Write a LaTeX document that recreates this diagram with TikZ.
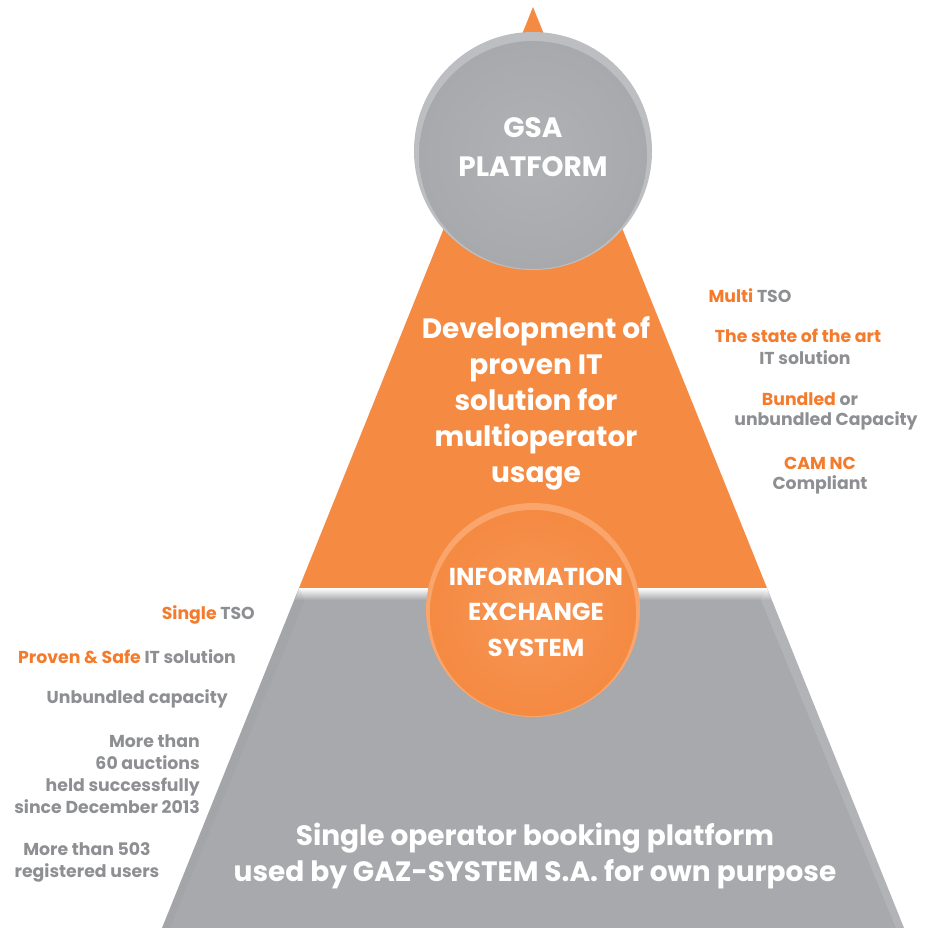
\documentclass[tikz,border=0pt]{standalone}
\usepackage{fontspec}
\setmainfont{Poppins}
\definecolor{org}{HTML}{F58A42}
\definecolor{orgtxt}{HTML}{F47B2C}
\definecolor{gr}{HTML}{A8A9AC}
\definecolor{grlight}{HTML}{BDBEC1}
\definecolor{grtxt}{HTML}{8E8F92}
\definecolor{orglight}{HTML}{F9A56C}
\begin{document}
\begin{tikzpicture}[x=1pt,y=-1pt,
  bigtxt/.style={text=white,font=\fontsize{28}{36}\selectfont\bfseries,align=center,inner sep=0pt},
  captxt/.style={text=white,font=\fontsize{24.5}{35.5}\selectfont\bfseries,align=center,inner sep=0pt},
  side/.style={text=grtxt,font=\fontsize{17.3}{22}\selectfont\bfseries,inner sep=0pt},
  hl/.style={text=orgtxt}]
\useasboundingbox (0,0) rectangle (924,928);
\coordinate (apex) at (533,7);
\coordinate (ml) at (299,588);
\coordinate (mr) at (767,588);
\coordinate (bl) at (162,928);
\coordinate (br) at (904,928);
% pyramid
\fill[org] (apex) -- (mr) -- (ml) -- cycle;
\fill[gr] (ml) -- (mr) -- (br) -- (bl) -- cycle;
\shade[top color=white,bottom color=gr] (ml) -- (mr) -- (771,600) -- (295,600) -- cycle;
\fill[gr!85!black,opacity=0.12] (ml) -- (305,600) -- (170,928) -- (bl) -- cycle;
\fill[white,opacity=0.12] (mr) -- (761,600) -- (896,928) -- (br) -- cycle;
% circles
\fill[grlight] (533,151) circle[radius=119];
\shade[inner color=gr!90!white,outer color=gr] (533,155) circle[radius=114];
\fill[orglight] (533,610) circle[radius=107];
\shade[inner color=org!90!white,outer color=org] (533,613) circle[radius=103];
% texts in shapes
\node[bigtxt,font=\fontsize{28}{39}\selectfont\bfseries] (gsa) at (533,147) {GSA\\PLATFORM};
\node[bigtxt] (dev) at (536,403) {Development of\\proven IT\\solution for\\multioperator\\usage};
\node[captxt] (ies) at (536,612) {INFORMATION\\EXCHANGE\\SYSTEM};
\node[bigtxt] (base) at (535,856) {Single operator booking platform\\used by GAZ-SYSTEM S.A. for own purpose};
% right side
\node[side] (r1) at (750,296) {\textcolor{orgtxt}{Multi} TSO};
\node[side] (r2) at (798,336) {\textcolor{orgtxt}{The state of the art}};
\node[side] (r3) at (805,358) {IT solution};
\node[side] (r4) at (810,399) {\textcolor{orgtxt}{Bundled} or};
\node[side] (r5) at (826,421) {unbundled Capacity};
\node[side] (r6) at (820,463) {\textcolor{orgtxt}{CAM NC}};
\node[side] (r7) at (820,485) {Compliant};
% left side
\node[side,anchor=east] (l1) at (255,615) {\textcolor{orgtxt}{Single} TSO};
\node[side,anchor=east] (l2) at (236,657) {\textcolor{orgtxt}{Proven \& Safe} IT solution};
\node[side,anchor=east] (l3) at (228,699) {Unbundled capacity};
\node[side,anchor=east,align=right] (l4) at (200,774) {More than\\60 auctions\\held successfully\\since December 2013};
\node[side,align=center] (l5) at (87,862) {More than 503\\registered users};
\end{tikzpicture}
\end{document}
